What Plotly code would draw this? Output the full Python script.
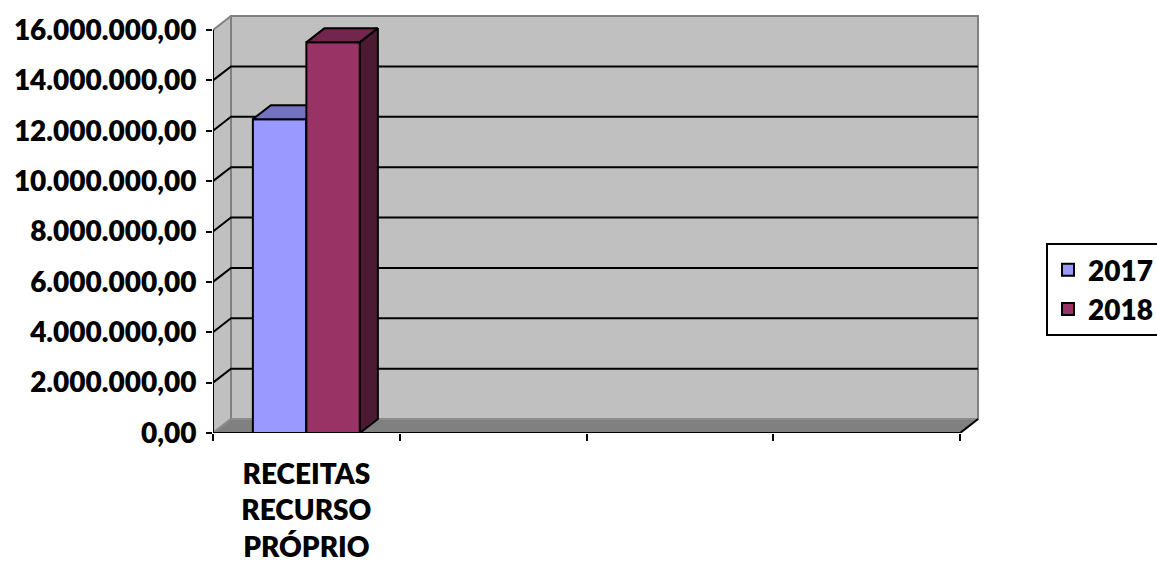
import plotly.graph_objects as go

# ---- data ----
CATEGORIES = ["RECEITAS<br>RECURSO<br>PRÓPRIO", "", "", ""]
SERIES = ["2017", "2018"]
VALUES_2017 = [12460000]
VALUES_2018 = [15510000]
Y_TICKS = [0, 2e6, 4e6, 6e6, 8e6, 10e6, 12e6, 14e6, 16e6]

FRONT = {"2017": "#9999FF", "2018": "#993366"}
TOP = {"2017": "#7373BF", "2018": "#73264D"}
SIDE = {"2017": "#5C5C99", "2018": "#4D1A33"}

# ---- geometry (pixel-based depth converted to data units) ----
L, R, T, B = 213, 177, 10, 132
W, H = 1157, 565
plot_w = W - L - R
plot_h = H - T - B
n_cat = len(CATEGORIES)
px_per_cat = 186.75
x_max = plot_w / px_per_cat
y_top = Y_TICKS[-1]
y_max = y_top * plot_h / (plot_h - 20)  # 16M tick 20px below plot top
px_per_val = plot_h / y_max
DX = 18 / px_per_cat
DY = 14 / px_per_val
bar_w = 0.2865

fig = go.Figure()

def poly(xs, ys, fill, line, lw=2):
    fig.add_trace(go.Scatter(x=xs + [xs[0]], y=ys + [ys[0]], mode="lines", fill="toself",
                             fillcolor=fill, line=dict(color=line, width=lw),
                             hoverinfo="skip", showlegend=False))

# back wall
poly([DX, n_cat + DX, n_cat + DX, DX], [DY, DY, y_top + DY, y_top + DY], "#C0C0C0", "#808080")
# side wall
poly([0, DX, DX, 0], [0, DY, y_top + DY, y_top], "#C0C0C0", "#808080")
# floor
poly([0, n_cat, n_cat + DX, DX], [0, 0, DY, DY], "#808080", "#8C8C8C")

# gridlines (side wall diagonal + back wall)
gx, gy = [], []
for v in Y_TICKS[1:-1]:
    gx += [0, DX, n_cat + DX, None]
    gy += [v, v + DY, v + DY, None]
fig.add_trace(go.Scatter(x=gx, y=gy, mode="lines", line=dict(color="black", width=2),
                         hoverinfo="skip", showlegend=False))

# axis lines
fig.add_trace(go.Scatter(x=[0, 0], y=[0, y_top], mode="lines", line=dict(color="black", width=2),
                         hoverinfo="skip", showlegend=False))
fig.add_trace(go.Scatter(x=[0, n_cat, n_cat + DX], y=[0, 0, DY], mode="lines",
                         line=dict(color="black", width=2), hoverinfo="skip", showlegend=False))

# 3D bars
series_vals = {"2017": VALUES_2017, "2018": VALUES_2018}
for ci in range(len(VALUES_2017)):
    center = ci + 0.5
    for si, s in enumerate(SERIES):
        v = series_vals[s][ci]
        x0 = center - bar_w + si * bar_w
        x1 = x0 + bar_w
        poly([x0, x1, x1, x0], [0, 0, v, v], FRONT[s], "black")
        poly([x0, x1, x1 + DX, x0 + DX], [v, v, v + DY, v + DY], TOP[s], "black")
        poly([x1, x1 + DX, x1 + DX, x1], [0, DY, v + DY, v], SIDE[s], "black")

# legend entries
for s in SERIES:
    fig.add_trace(go.Scatter(x=[None], y=[None], mode="markers", name=s,
                             marker=dict(symbol="square", size=15, color=FRONT[s],
                                         line=dict(color="black", width=1.5))))

font = dict(family="Lato", size=28, color="black", weight=800)
fig.update_layout(
    width=W, height=H,
    margin=dict(l=L, r=R, t=T, b=B, autoexpand=False),
    paper_bgcolor="white", plot_bgcolor="white",
    separators=",.",
    font=font,
    xaxis=dict(range=[0, x_max], showgrid=False, zeroline=False, showline=False,
               tickvals=[i + 0.5 for i in range(n_cat)], ticktext=CATEGORIES, ticks="",
               ticklabelstandoff=22, tickfont=font,
               minor=dict(tickvals=list(range(n_cat + 1)), ticks="outside", ticklen=7,
                          tickwidth=2, tickcolor="black", showgrid=False)),
    yaxis=dict(range=[0, y_max], showgrid=False, zeroline=False, showline=False,
               tickvals=Y_TICKS, tickformat=",.2f", ticks="outside", ticklen=6,
               tickwidth=2, tickcolor="black", ticklabelstandoff=4, tickfont=font),
    legend=dict(x=(1046 - L) / plot_w, xanchor="left", y=(H - B - 243) / plot_h, yanchor="top",
                bordercolor="black", borderwidth=2, bgcolor="white", font=font,
                itemsizing="constant", tracegroupgap=0),
    showlegend=True,
)

fig.write_html("out.html")
